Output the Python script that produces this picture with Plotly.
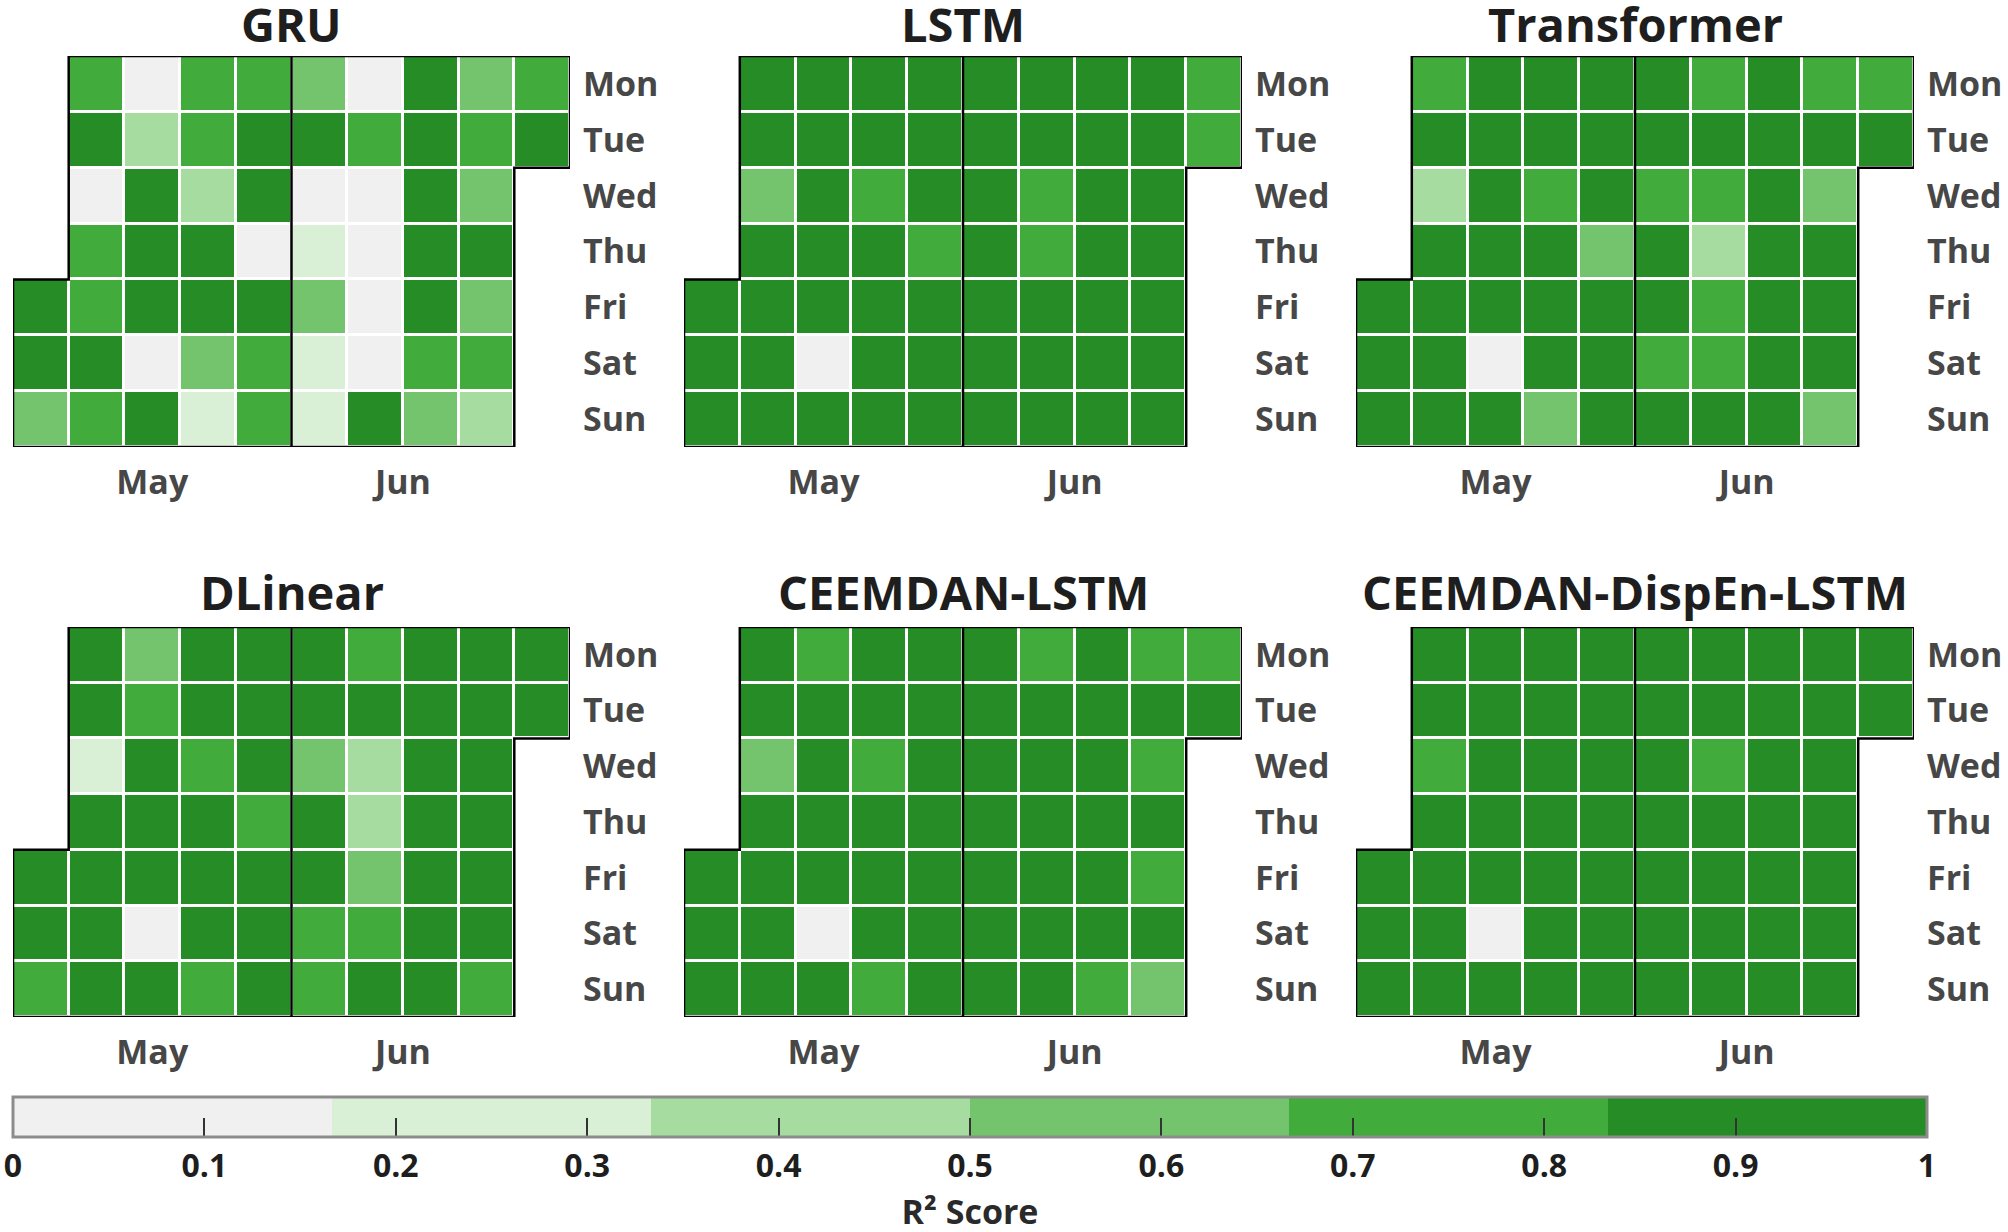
import numpy as np
import pandas as pd
import plotly.graph_objects as go

# ---------------- data ----------------
dates = pd.date_range("2020-05-01", "2020-06-30", freq="D")

model_names = ["GRU", "LSTM", "Transformer", "DLinear", "CEEMDAN-LSTM", "CEEMDAN-DispEn-LSTM"]

gru = [0.91, 0.88, 0.61,
       0.78, 0.90, 0.06, 0.74, 0.79, 0.93, 0.75,
       0.03, 0.44, 0.89, 0.92, 0.87, 0.09, 0.90,
       0.72, 0.80, 0.41, 0.86, 0.91, 0.58, 0.26,
       0.77, 0.88, 0.90, 0.11, 0.94, 0.73, 0.79,
       0.63, 0.92, 0.05, 0.22, 0.60, 0.27, 0.24,
       0.02, 0.76, 0.08, 0.12, 0.04, 0.10, 0.87,
       0.93, 0.89, 0.91, 0.95, 0.88, 0.81, 0.57,
       0.55, 0.74, 0.64, 0.90, 0.59, 0.78, 0.39,
       0.70, 0.85]

lstm = [0.94, 0.95, 0.93,
        0.92, 0.95, 0.62, 0.93, 0.96, 0.94, 0.95,
        0.96, 0.94, 0.93, 0.95, 0.97, 0.07, 0.94,
        0.95, 0.93, 0.79, 0.92, 0.96, 0.95, 0.94,
        0.93, 0.96, 0.94, 0.80, 0.95, 0.96, 0.93,
        0.95, 0.94, 0.92, 0.94, 0.96, 0.95, 0.97,
        0.91, 0.93, 0.78, 0.81, 0.94, 0.95, 0.96,
        0.96, 0.94, 0.95, 0.93, 0.94, 0.96, 0.95,
        0.92, 0.95, 0.94, 0.96, 0.93, 0.94, 0.95,
        0.76, 0.78]

transformer = [0.93, 0.91, 0.94,
               0.79, 0.92, 0.45, 0.90, 0.93, 0.94, 0.92,
               0.91, 0.93, 0.89, 0.92, 0.95, 0.05, 0.93,
               0.94, 0.90, 0.75, 0.91, 0.92, 0.93, 0.60,
               0.92, 0.94, 0.90, 0.62, 0.93, 0.91, 0.94,
               0.90, 0.93, 0.77, 0.91, 0.94, 0.78, 0.92,
               0.76, 0.89, 0.78, 0.42, 0.74, 0.80, 0.91,
               0.93, 0.92, 0.94, 0.90, 0.91, 0.93, 0.95,
               0.79, 0.91, 0.58, 0.93, 0.90, 0.92, 0.63,
               0.75, 0.90]

dlinear = [0.92, 0.90, 0.78,
           0.91, 0.93, 0.26, 0.90, 0.94, 0.92, 0.89,
           0.61, 0.77, 0.92, 0.91, 0.93, 0.06, 0.90,
           0.93, 0.92, 0.79, 0.90, 0.91, 0.94, 0.76,
           0.90, 0.92, 0.93, 0.74, 0.92, 0.91, 0.93,
           0.91, 0.94, 0.63, 0.90, 0.92, 0.77, 0.75,
           0.78, 0.90, 0.46, 0.43, 0.58, 0.79, 0.92,
           0.93, 0.91, 0.92, 0.94, 0.90, 0.93, 0.91,
           0.92, 0.94, 0.90, 0.91, 0.93, 0.89, 0.77,
           0.91, 0.93]

ceemdan_lstm = [0.95, 0.94, 0.93,
                0.94, 0.96, 0.64, 0.95, 0.93, 0.94, 0.95,
                0.80, 0.95, 0.94, 0.96, 0.95, 0.08, 0.94,
                0.96, 0.94, 0.81, 0.95, 0.94, 0.93, 0.79,
                0.95, 0.93, 0.96, 0.94, 0.95, 0.96, 0.94,
                0.94, 0.95, 0.93, 0.96, 0.94, 0.95, 0.93,
                0.80, 0.94, 0.95, 0.93, 0.96, 0.94, 0.95,
                0.93, 0.96, 0.94, 0.95, 0.93, 0.95, 0.78,
                0.79, 0.94, 0.77, 0.93, 0.81, 0.94, 0.61,
                0.80, 0.95]

ceemdan_dispen_lstm = [0.97, 0.96, 0.97,
                       0.96, 0.97, 0.81, 0.96, 0.97, 0.95, 0.96,
                       0.97, 0.96, 0.95, 0.97, 0.96, 0.09, 0.97,
                       0.96, 0.97, 0.95, 0.96, 0.97, 0.96, 0.95,
                       0.97, 0.96, 0.97, 0.95, 0.96, 0.97, 0.96,
                       0.96, 0.95, 0.97, 0.96, 0.97, 0.96, 0.97,
                       0.97, 0.96, 0.82, 0.97, 0.96, 0.95, 0.96,
                       0.96, 0.97, 0.96, 0.97, 0.95, 0.96, 0.97,
                       0.97, 0.96, 0.95, 0.96, 0.97, 0.96, 0.95,
                       0.96, 0.97]

model_values = [gru, lstm, transformer, dlinear, ceemdan_lstm, ceemdan_dispen_lstm]

day_labels = ["Mon", "Tue", "Wed", "Thu", "Fri", "Sat", "Sun"]
month_labels = ["May", "Jun"]
cbar_tickvals = [0, 0.1, 0.2, 0.3, 0.4, 0.5, 0.6, 0.7, 0.8, 0.9, 1]
cbar_ticktext = ["0", "0.1", "0.2", "0.3", "0.4", "0.5", "0.6", "0.7", "0.8", "0.9", "1"]
level_colors = ["#f0f0f0", "#d9f0d6", "#a6dca0", "#74c46e", "#41ab3c", "#268c25"]

# ---------------- layout geometry ----------------
W, H = 2008, 1232
col_px = [(13, 570), (684, 1242), (1356, 1914)]
row_px = [(56, 447), (627, 1017)]
title_y_px = [24, 592]

FONT = "Open Sans"
LABEL_COLOR = "#474747"

# calendar positions
first_monday = dates[0] - pd.Timedelta(days=dates[0].weekday())
week_idx = np.array([(d - first_monday).days // 7 for d in dates])
wday_idx = np.array([d.weekday() for d in dates])
n_weeks = int(week_idx.max()) + 1

# discrete colorscale
n_lv = len(level_colors)
colorscale = []
for i, c in enumerate(level_colors):
    colorscale.append([i / n_lv, c])
    colorscale.append([(i + 1) / n_lv, c])

# month tick positions
month_ticks = []
for m in sorted(set(dates.month)):
    mask = dates.month == m
    wk = week_idx[mask]
    full = [w for w in np.unique(wk) if np.sum(wk == w) == 7]
    if m == dates.month[0]:
        month_ticks.append((wk.min() + wk.max()) / 2.0)
    else:
        month_ticks.append(float(np.mean(full)))

fig = go.Figure()
shapes = []
annotations = []

for k, (name, vals) in enumerate(zip(model_names, model_values)):
    r, c = divmod(k, 3)
    ax = k + 1
    xr = "x" if ax == 1 else f"x{ax}"
    yr = "y" if ax == 1 else f"y{ax}"

    z = [[None] * n_weeks for _ in range(7)]
    text = [[""] * n_weeks for _ in range(7)]
    for d, w, wd, v in zip(dates, week_idx, wday_idx, vals):
        z[wd][w] = v
        text[wd][w] = d.strftime("%Y-%m-%d")

    fig.add_trace(go.Heatmap(
        z=z, x=list(range(n_weeks)), y=list(range(7)),
        text=text, coloraxis="coloraxis", xgap=3, ygap=3,
        hovertemplate="%{text}<br>R²=%{z}<extra>" + name + "</extra>",
        xaxis=xr, yaxis=yr,
    ))

    x0, x1 = col_px[c]
    y0, y1 = row_px[r]
    fig.layout[f"xaxis{'' if ax == 1 else ax}"] = dict(
        domain=[x0 / W, x1 / W], anchor=yr, range=[-0.5, n_weeks - 0.5],
        showgrid=False, zeroline=False, showline=False, ticks="",
        tickvals=month_ticks, ticktext=month_labels, ticklabelstandoff=12,
        tickfont=dict(family=FONT, size=34, color=LABEL_COLOR, weight=700),
        fixedrange=True,
    )
    fig.layout[f"yaxis{'' if ax == 1 else ax}"] = dict(
        domain=[1 - y1 / H, 1 - y0 / H], anchor=xr, range=[6.5, -0.5],
        side="right", showgrid=False, zeroline=False, showline=False, ticks="",
        tickvals=list(range(7)), ticktext=day_labels, ticklabelstandoff=12,
        tickfont=dict(family=FONT, size=34, color=LABEL_COLOR, weight=700),
        fixedrange=True,
    )

    # outline of the calendar block
    wd0 = wday_idx[0]
    wd1 = wday_idx[-1]
    L = n_weeks
    pts = [(-0.5, wd0 - 0.5), (0.5, wd0 - 0.5), (0.5, -0.5), (L - 0.5, -0.5),
           (L - 0.5, wd1 + 0.5), (L - 1.5, wd1 + 0.5), (L - 1.5, 6.5), (-0.5, 6.5)]
    path = "M " + " L ".join(f"{px},{py}" for px, py in pts) + " Z"
    shapes.append(dict(type="path", path=path, xref=xr, yref=yr,
                       line=dict(color="black", width=2.5), layer="above"))
    # month boundaries
    for m in sorted(set(dates.month))[1:]:
        i0 = int(np.argmax(dates.month == m))
        wk, wd = week_idx[i0], wday_idx[i0]
        bp = [(wk - 0.5, 6.5), (wk - 0.5, wd - 0.5), (wk + 0.5, wd - 0.5), (wk + 0.5, -0.5)]
        if wd == 0:
            bp = [(wk - 0.5, 6.5), (wk - 0.5, -0.5)]
        shapes.append(dict(type="path",
                           path="M " + " L ".join(f"{px},{py}" for px, py in bp),
                           xref=xr, yref=yr, line=dict(color="black", width=2.5),
                           layer="above"))

    annotations.append(dict(
        text=f"<b>{name}</b>", x=(x0 + x1) / 2 / W, y=1 - title_y_px[r] / H,
        xref="paper", yref="paper", xanchor="center", yanchor="middle",
        showarrow=False, font=dict(family=FONT, size=47, color="#1e1e1e"),
    ))

cb_x0, cb_x1 = 13, 1927
cb_y0 = 1097

fig.update_layout(
    width=W, height=H,
    margin=dict(l=0, r=0, t=0, b=0, autoexpand=False),
    paper_bgcolor="white", plot_bgcolor="white",
    showlegend=False,
    shapes=shapes, annotations=annotations,
    coloraxis=dict(
        cmin=0, cmax=1, colorscale=colorscale,
        colorbar=dict(
            orientation="h", x=(cb_x0 + cb_x1) / 2 / W, xanchor="center",
            y=1 - cb_y0 / H, yanchor="top",
            len=cb_x1 - cb_x0, lenmode="pixels",
            thickness=40, thicknessmode="pixels", xpad=0, ypad=0,
            outlinewidth=3, outlinecolor="#8c8c8c",
            tickvals=cbar_tickvals, ticktext=cbar_ticktext,
            ticks="inside", ticklen=20, tickwidth=2, tickcolor="#333333",
            tickfont=dict(family=FONT, size=32, color="#1e1e1e", weight=700),
            title=dict(text="R² Score", side="bottom",
                       font=dict(family=FONT, size=34, color="#2a2a2a", weight=700)),
        ),
    ),
)

fig.write_html(
    "out.html",
    config={"displayModeBar": False},
    post_script="document.body.style.margin='0px';document.body.style.overflow='hidden';",
)
